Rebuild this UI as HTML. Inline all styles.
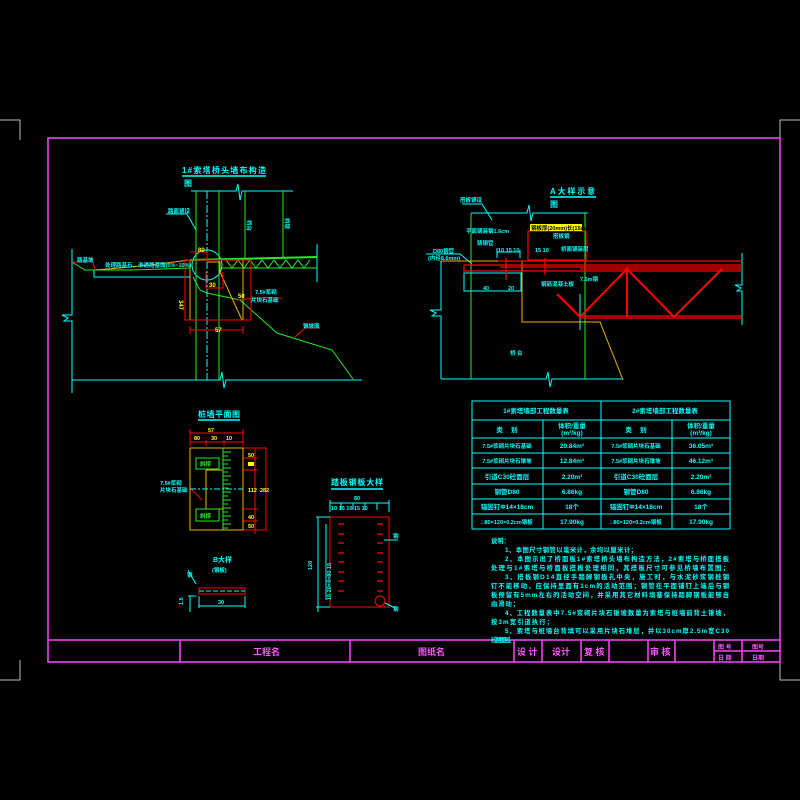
<!DOCTYPE html>
<html><head><meta charset="utf-8"><style>
html,body{margin:0;padding:0;background:#000;}
svg{display:block;}
text{font-family:"Liberation Sans","Noto Sans CJK SC",sans-serif;font-weight:bold;}
</style></head><body>
<svg width="800" height="800" viewBox="0 0 800 800" xmlns="http://www.w3.org/2000/svg">
<rect width="800" height="800" fill="#000"/>
<!-- corner marks -->
<g stroke="#bbb" stroke-width="1" fill="none">
<path d="M0 120H20V140"/><path d="M800 120H780V140"/>
<path d="M0 680H20V660"/><path d="M800 680H780V660"/>
</g>
<!-- frame -->
<g stroke="#ff44ff" stroke-width="1.5" fill="none">
<rect x="48" y="138" width="732" height="524"/>
<line x1="48" y1="640" x2="780" y2="640"/>
<line x1="180" y1="640" x2="180" y2="662"/><line x1="350" y1="640" x2="350" y2="662"/>
<line x1="514" y1="640" x2="514" y2="662"/><line x1="542" y1="640" x2="542" y2="662"/>
<line x1="581" y1="640" x2="581" y2="662"/><line x1="609" y1="640" x2="609" y2="662"/>
<line x1="648" y1="640" x2="648" y2="662"/><line x1="675" y1="640" x2="675" y2="662"/>
<line x1="714" y1="640" x2="714" y2="662"/><line x1="742" y1="640" x2="742" y2="662"/>
<line x1="714" y1="651" x2="780" y2="651"/>
</g>
<g fill="#ff55ff" font-size="9">
<text x="253" y="655">工程名</text><text x="418" y="655">图纸名</text>
<text x="517" y="655">设 计</text><text x="552" y="655">设计</text><text x="584" y="655">复 核</text>
<text x="650" y="655">审 核</text>
</g>
<g fill="#ff55ff" font-size="6">
<text x="718" y="649">图 号</text><text x="752" y="649">图号</text>
<text x="718" y="660">日 期</text><text x="752" y="660">日期</text>
</g>

<!-- LEFT DRAWING -->
<g fill="#00ffff" font-size="8">
<text x="182" y="173" textLength="84">1#索塔桥头墙布构造</text>
<text x="184" y="186">图</text>
</g>
<line x1="182" y1="176" x2="266" y2="176" stroke="#00ffff" stroke-width="1.5"/>
<g stroke="#00ffff" stroke-width="1" fill="none">
<path d="M191 191H236L238 184L240 200L242 191H293"/>
<path d="M72 249V315H62L68 318L64 321H72V393"/>
<path d="M72 380H220L222 372L224 388L226 380H362"/>
<path d="M94 270V277H190"/>
<path d="M317 244V282"/>
<path d="M166 214H187L196 230"/>
</g>
<line x1="207" y1="191" x2="207" y2="380" stroke="#00ffff" stroke-dasharray="8,2,2,2"/>
<circle cx="207" cy="265" r="15" stroke="#00ffff" fill="none"/>
<g stroke="#22ee22" stroke-width="1" fill="none">
<line x1="196" y1="191" x2="196" y2="380"/><line x1="219" y1="191" x2="219" y2="380"/>
<line x1="245" y1="191" x2="245" y2="260"/><line x1="283" y1="191" x2="283" y2="258"/>
<path d="M190 260L317 257" stroke-width="2"/>
<path d="M220 268H317"/>
<path d="M226 260L232 268L238 260L244 268L250 260L256 268L262 260L268 268L274 260L280 268L286 260L292 268L298 260L304 268L310 260"/>
<path d="M72 262L85 270H133L190 268"/>
<path d="M193 277L200 290L207 293L240 300L277 333L293 338L332 350L353 379"/>
</g>
<g stroke="#f0b000" fill="none">
<path d="M95 270L120 268L150 265L190 260"/>
<rect x="190" y="260" width="53" height="60"/>
<path d="M220 272L242 320"/>
<path d="M207 262H220V272"/>
</g>
<g stroke="#ff0000" fill="none">
<rect x="185" y="260" width="66" height="60"/>
<path d="M190 330H243M190 326V334M243 326V334"/>
<path d="M190 252H207V262"/>
<path d="M206 272V288H223V272"/>
<path d="M72 262H93L95 270"/>
<path d="M255 298H282M237 300L255 298"/>
<path d="M295 337L305 328H320"/>
</g>
<g fill="#ffff00" font-size="6">
<text x="198" y="252">80</text><text x="209" y="287">30</text><text x="215" y="332">57</text>
<text x="238" y="298">50</text>
<text x="179" y="300" transform="rotate(90 179 300)">347</text>
</g>
<g fill="#00ffff" font-size="5.5">
<text x="77" y="262">路基坡</text>
<text x="105" y="267">处理路基石，渗透路基面(5%~10%)</text>
<text x="168" y="213">路面铺设</text>
<text x="255" y="294">7.5#浆砌</text><text x="251" y="302">片块石基础</text>
<text x="303" y="328">锥坡面</text>
<text x="247" y="220" transform="rotate(90 247 220)">桥台</text>
<text x="285" y="218" transform="rotate(90 285 218)">桥墩</text>
</g>

<!-- RIGHT DRAWING -->
<g fill="#00ffff" font-size="8">
<text x="550" y="194" textLength="45">A大样示意</text>
<text x="550" y="207">图</text>
</g>
<line x1="550" y1="197" x2="596" y2="197" stroke="#00ffff" stroke-width="1.5"/>
<g stroke="#00ffff" fill="none">
<path d="M471 213H527L529 205L531 221L533 213H588"/>
<path d="M441 261V310H430L436 313L432 316H441V379"/>
<path d="M441 379H546L548 372L550 387L552 379H623"/>
<path d="M742 253V285H735L741 288L737 291H742V325"/>
<rect x="464" y="273" width="57" height="18"/>
<path d="M462 204H482L492 220"/>
<path d="M426 254H460L472 264"/>
<path d="M497 248V258M520 250V258M497 252H520"/>
<path d="M580 294V330"/>
</g>
<g stroke="#22ee22" fill="none">
<line x1="471" y1="213" x2="471" y2="379"/><line x1="585" y1="213" x2="585" y2="379"/>
</g>
<path d="M441 261H522V322H600L623 380" stroke="#f0b000" fill="none"/>
<g stroke="#ff0000" fill="none" stroke-width="1.2">
<rect x="528" y="231" width="58" height="29"/>
<path d="M498 261H742M464 265H742M500 267H742M464 271H742"/>
<path d="M464 265V273"/>
<path d="M580 269H742M580 316H742M580 318H742"/>
<path d="M557 294L580 317L627 269V317M627 269L674 317L722 269" stroke-width="2"/>
<path d="M506 258V280M545 258V275"/>
</g>
<rect x="530" y="224" width="52" height="7" fill="#ffff00"/>
<text x="531" y="230" fill="#000" font-size="5.5">钢板厚(20mm)长(15m)</text>
<g fill="#00ffff" font-size="5.5">
<text x="460" y="202">搭板铺设</text>
<text x="466" y="233">平面铺装钢1.6cm</text>
<text x="477" y="245">铸钢管</text><text x="498" y="252">10 15 10</text><text x="535" y="252">15 10</text>
<text x="553" y="238">搭板钢</text><text x="561" y="251">桥面铺装层</text>
<text x="433" y="253">D80钢管</text><text x="428" y="260">(内径8.6mm)</text>
<text x="483" y="290">40</text><text x="508" y="290">20</text>
<text x="541" y="286">钢筋混凝土板</text><text x="580" y="281">7.5m钢</text>
<text x="510" y="355">桥 台</text>
</g>

<!-- TABLE -->
<g stroke="#00ffff" fill="none" stroke-width="1">
<rect x="472" y="401" width="258" height="128"/>
<path d="M472 420H730M472 438H730M472 453H730M472 468H730M472 484H730M472 499H730M472 514H730"/>
<path d="M601 401V529M543 420V529M672 420V529"/>
</g>
<g fill="#00ffff" font-size="6.5" text-anchor="middle">
<text x="536" y="413">1#索塔墙部工程数量表</text><text x="665" y="413">2#索塔墙部工程数量表</text>
<text x="507" y="432">类 　别</text><text x="572" y="428">体积/重量</text><text x="572" y="435">(m³/kg)</text>
<text x="636" y="432">类 　别</text><text x="701" y="428">体积/重量</text><text x="701" y="435">(m³/kg)</text>
<text x="507" y="448" font-size="5.5">7.5#浆砌片块石基础</text><text x="572" y="448">20.84m³</text>
<text x="636" y="448" font-size="5.5">7.5#浆砌片块石基础</text><text x="701" y="448">36.05m³</text>
<text x="507" y="463" font-size="5.5">7.5#浆砌片块石锥坡</text><text x="572" y="463">12.84m³</text>
<text x="636" y="463" font-size="5.5">7.5#浆砌片块石锥坡</text><text x="701" y="463">46.12m³</text>
<text x="507" y="479">引道C30砼面层</text><text x="572" y="479">2.20m³</text>
<text x="636" y="479">引道C30砼面层</text><text x="701" y="479">2.20m³</text>
<text x="507" y="494">钢管D80</text><text x="572" y="494">6.86kg</text>
<text x="636" y="494">钢管D80</text><text x="701" y="494">6.86kg</text>
<text x="507" y="509">锚固钉Φ14×18cm</text><text x="572" y="509">18个</text>
<text x="636" y="509">锚固钉Φ14×18cm</text><text x="701" y="509">18个</text>
<text x="507" y="524" font-size="5.5">□80×120×0.2cm钢板</text><text x="572" y="524">17.90kg</text>
<text x="636" y="524" font-size="5.5">□80×120×0.2cm钢板</text><text x="701" y="524">17.90kg</text>
</g>

<!-- PLAN -->
<g fill="#00ffff" font-size="8"><text x="198" y="417" textLength="42">桩墙平面图</text></g>
<line x1="198" y1="420" x2="240" y2="420" stroke="#00ffff" stroke-width="1.5"/>
<g stroke="#ff0000" fill="none">
<path d="M190 433H243M190 442H243M190 429V446M243 429V446M206 440V446M224 440V446"/>
<path d="M243 448H267M243 530H267M255 448V534M266 448V530"/>
<path d="M243 458H258M243 470H258M243 509H258M243 521H258"/>
<path d="M190 488L202 500"/>
</g>
<rect x="190" y="448" width="53" height="82" stroke="#f0b000" fill="none"/>
<path d="M206 470V509M206 470H223M206 509H223" stroke="#f0b000" fill="none"/>
<line x1="190" y1="489" x2="243" y2="489" stroke="#00ffff" stroke-dasharray="6,2,2,2"/>
<g stroke="#22ee22" fill="none">
<rect x="196" y="458" width="23" height="11"/><rect x="196" y="509" width="23" height="12"/>
<path d="M223 448V530"/>
<path d="M223 452H231M223 456H228M223 460H231M223 464H228M223 468H231M223 472H228M223 476H231M223 480H228M223 484H231M223 488H228M223 492H231M223 496H228M223 500H231M223 504H228M223 508H231M223 512H228M223 516H231M223 520H228M223 524H231M223 528H228"/>
</g>
<g fill="#22ee22" font-size="5.5"><text x="200" y="466">斜撑</text><text x="200" y="518">斜撑</text></g>
<g fill="#ffff00" font-size="5.5">
<text x="208" y="432">57</text><text x="194" y="440">80</text><text x="211" y="440">30</text><text x="226" y="440">10</text>
<text x="248" y="457">50</text><rect x="248" y="462" width="6" height="4"/><text x="248" y="492">112</text>
<text x="248" y="519">40</text><text x="248" y="528">50</text><text x="260" y="492">282</text>
</g>
<g fill="#00ffff" font-size="5.5"><text x="160" y="485">7.5#浆砌</text><text x="160" y="492">片块石基础</text></g>

<!-- B detail -->
<g fill="#00ffff" font-size="7"><text x="213" y="562">B大样</text><text x="212" y="572" font-size="5.5">(钢板)</text></g>
<g stroke="#ff0000" fill="none"><rect x="199" y="588" width="46" height="6"/></g>
<path d="M199 591H245" stroke="#00ffff" stroke-dasharray="5,2"/>
<g stroke="#00ffff" fill="none">
<path d="M199 596V608M245 596V608M199 606H245"/>
<path d="M188 596H196M190 596V612"/>
<path d="M188 570L196 584"/>
</g>
<g fill="#00ffff" font-size="5.5"><text x="218" y="604">30</text><text x="183" y="605" transform="rotate(-90 183 605)">1.5</text><text x="187" y="577">钢</text></g>

<!-- plate detail -->
<g fill="#00ffff" font-size="8"><text x="331" y="485" textLength="52">踏板钢板大样</text></g>
<line x1="331" y1="489" x2="383" y2="489" stroke="#00ffff" stroke-width="1.5"/>
<rect x="330" y="517" width="59" height="90" stroke="#ff0000" fill="none"/>
<g stroke="#ff0000" stroke-width="1.2">
<path d="M338 524H344M338 534H344M338 543H344M338 553H344M338 562H344M338 572H344M338 581H344M338 591H344"/>
<path d="M377 524H383M377 534H383M377 543H383M377 553H383M377 562H383M377 572H383M377 581H383M377 591H383"/>
</g>
<circle cx="380" cy="601" r="5" stroke="#ff0000" fill="none"/>
<g stroke="#00ffff" fill="none">
<path d="M330 503H389M330 500V512M389 500V512M341 503V510M353 503V510M365 503V510M377 503V510"/>
<path d="M318 517V612M326 524V600M316 517H330M316 607H330"/>
<path d="M385 603L395 608M384 540H398"/>
</g>
<g fill="#00ffff" font-size="5.5">
<text x="354" y="500">80</text><text x="331" y="510">10 15 10 15 10</text>
<text x="312" y="570" transform="rotate(-90 312 570)">120</text>
<text x="331" y="600" transform="rotate(-90 331 600)">15  20×4=80  15</text>
<text x="393" y="538">钢</text><text x="393" y="611">钢</text>
</g>

<!-- NOTES -->
<g fill="#00ffff" font-size="6.3">
<text x="491" y="543">说明：</text>
<text x="505" y="552" textLength="132">1、本图尺寸钢管以毫米计，余均以厘米计；</text>
<text x="505" y="561" textLength="224">2、本图示出了桥面板1#索塔桥头墙布构造方法，2#索塔与桥面搭板</text>
<text x="491" y="570" textLength="238">处理与1#索塔与桥面板搭板处理相同，其搭板尺寸可参见桥墙布置图；</text>
<text x="505" y="579" textLength="224">3、搭板钢D14直径手踏脚钢板孔中央，施工时，与水泥砂浆钢桩钢</text>
<text x="491" y="588" textLength="238">钉不能移动，应保持里面有1cm的活动范围；钢管在平面铺钉上端后与钢</text>
<text x="491" y="597" textLength="238">板预留有5mm左右的活动空间，并采用其它材料填塞保持踏脚钢板能够自</text>
<text x="491" y="606" textLength="28">由滑动；</text>
<text x="505" y="615" textLength="224">4、工程数量表中7.5#浆砌片块石锥坡数量为索塔与桩墙前背土锥坡，</text>
<text x="491" y="624" textLength="62">按3m宽引道执行；</text>
<text x="505" y="633" textLength="224">5、索塔与桩墙台背填可以采用片块石堆层，并以30cm厚2.5m宽C30</text>
<text x="491" y="642" textLength="24">砼路面层。</text>
</g>
</svg>
</body></html>
